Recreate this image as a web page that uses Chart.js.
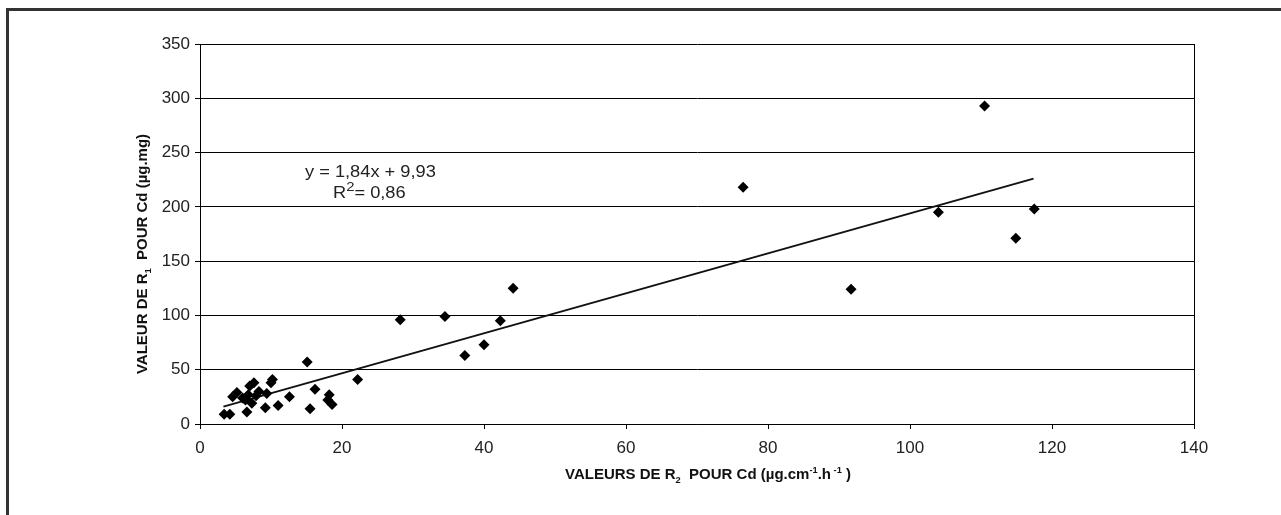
<!DOCTYPE html>
<html>
<head>
    <title>R1 / R2 Cd</title>
    <script src="https://cdn.jsdelivr.net/npm/chart.js@4.4.1/dist/chart.umd.min.js"></script>
    <style>
        body { margin: 0; background: #fff; font-family: 'Liberation Sans', Arial, sans-serif; }
        .frame { position: absolute; left: 6px; top: 8px; width: 1400px; height: 600px; border-left: 3px solid #333; border-top: 3px solid #333; }
        .chart-container { position: absolute; left: 0; top: 0; width: 1281px; height: 515px; }
    </style>
</head>
<body>
    <div class="frame"></div>
    <div class="chart-container">
        <canvas id="cdChart"></canvas>
    </div>

    <script>
        // valeurs
        const r2Values = [3.4, 4.2, 4.6, 5.2, 6.0, 6.4, 6.6, 6.8, 7.0, 7.3, 7.6, 7.9, 8.3, 9.2, 9.4, 10.0, 10.2, 11.0, 12.6,
            15.1, 15.5, 16.2, 18.0, 18.2, 18.6, 22.2, 28.2, 34.5, 37.3, 40.0, 42.3, 44.1, 76.5, 91.7, 104.0, 110.5, 114.9, 117.5];
        const r1Values = [9, 9, 25, 29, 24, 22, 11, 27, 35, 19, 38, 26, 30, 15, 28, 38, 41, 17, 25,
            57, 14, 32, 22, 27, 18, 41, 96, 99, 63, 73, 95, 125, 218, 124, 195, 293, 171, 198];
        // droite de tendance (extrémités)
        const trendX = [3.3, 117.4];
        const trendY = [16, 226];
        const xTicks = [0, 20, 40, 60, 80, 100, 120, 140];
        const yTicks = [0, 50, 100, 150, 200, 250, 300, 350];
        const equationText = 'y = 1,84x + 9,93';
        const r2Text = ['R', '2', '= 0,86'];

        const points = r2Values.map((x, i) => ({ x: x, y: r1Values[i] }));
        const trend = trendX.map((x, i) => ({ x: x, y: trendY[i] }));
        const FONT = '"Liberation Sans", Arial, sans-serif';

        // dessine un texte avec indices / exposants
        function drawParts(ctx, parts, x, y, size, weight) {
            let cx = x;
            parts.forEach(p => {
                const s = p.mode ? size * 0.62 : size;
                ctx.font = weight + ' ' + s + 'px ' + FONT;
                const dy = p.mode === 'sub' ? size * 0.25 : (p.mode === 'sup' ? -size * 0.4 : 0);
                ctx.fillText(p.t, cx, y + dy);
                cx += ctx.measureText(p.t).width;
            });
            return cx - x;
        }
        function partsWidth(ctx, parts, size, weight) {
            let w = 0;
            parts.forEach(p => {
                const s = p.mode ? size * 0.62 : size;
                ctx.font = weight + ' ' + s + 'px ' + FONT;
                w += ctx.measureText(p.t).width;
            });
            return w;
        }

        const textPlugin = {
            id: 'textPlugin',
            afterDraw(chart) {
                const ctx = chart.ctx;
                ctx.save();
                ctx.fillStyle = '#111';
                ctx.textBaseline = 'alphabetic';
                ctx.textAlign = 'left';

                // titre axe x
                const xParts = [{ t: 'VALEURS DE R' }, { t: '2', mode: 'sub' }, { t: '  POUR Cd (µg.cm' }, { t: '-1', mode: 'sup' },
                    { t: '.h' }, { t: ' -1', mode: 'sup' }, { t: ' )' }];
                const wx = partsWidth(ctx, xParts, 15, 'bold');
                drawParts(ctx, xParts, 708 - wx / 2, 479, 15, 'bold');

                // titre axe y
                const yParts = [{ t: 'VALEUR DE R' }, { t: '1', mode: 'sub' }, { t: '  POUR Cd (µg.mg)' }];
                const wy = partsWidth(ctx, yParts, 15, 'bold');
                ctx.save();
                ctx.translate(147, 254);
                ctx.rotate(-Math.PI / 2);
                drawParts(ctx, yParts, -wy / 2, 0, 15, 'bold');
                ctx.restore();

                // équation
                ctx.fillStyle = '#222';
                ctx.save();
                ctx.translate(305, 177);
                ctx.scale(1.14, 1);
                ctx.font = '16px ' + FONT;
                ctx.fillText(equationText, 0, 0);
                ctx.restore();

                ctx.save();
                ctx.translate(333, 198);
                ctx.scale(1.14, 1);
                let cx = 0;
                ctx.font = '16px ' + FONT;
                ctx.fillText(r2Text[0], cx, 0);
                cx += ctx.measureText(r2Text[0]).width;
                ctx.font = '13px ' + FONT;
                ctx.fillText(r2Text[1], cx, -7);
                cx += ctx.measureText(r2Text[1]).width;
                ctx.font = '16px ' + FONT;
                ctx.fillText(r2Text[2], cx, 0);
                ctx.restore();
                ctx.restore();
            }
        };

        new Chart(document.getElementById('cdChart'), {
            type: 'scatter',
            data: {
                datasets: [{
                    label: 'points',
                    data: points,
                    pointStyle: 'rectRot',
                    pointRadius: 5.5,
                    pointHoverRadius: 5.5,
                    backgroundColor: '#000',
                    borderColor: '#000',
                    borderWidth: 0
                }, {
                    type: 'line',
                    label: 'tendance',
                    data: trend,
                    borderColor: '#111',
                    borderWidth: 2,
                    pointRadius: 0,
                    fill: false
                }]
            },
            options: {
                responsive: true,
                maintainAspectRatio: false,
                animation: false,
                layout: { padding: { left: 0, right: 87, top: 44, bottom: 0 } },
                plugins: {
                    legend: { display: false },
                    tooltip: { enabled: false }
                },
                scales: {
                    x: {
                        type: 'linear',
                        min: 0,
                        max: 140,
                        afterBuildTicks: s => { s.ticks = xTicks.map(v => ({ value: v })); },
                        afterFit: s => { s.height = 91; },
                        ticks: {
                            color: '#222',
                            padding: 9,
                            font: { family: FONT, size: 17 }
                        },
                        grid: {
                            color: c => c.tick && c.tick.value === 140 ? '#000' : 'rgba(0,0,0,0)',
                            tickColor: '#000',
                            tickLength: 5,
                            lineWidth: 1
                        },
                        border: { color: '#000', width: 1 }
                    },
                    y: {
                        min: 0,
                        max: 350,
                        afterBuildTicks: s => { s.ticks = yTicks.map(v => ({ value: v })); },
                        afterFit: s => { s.width = 200; },
                        ticks: {
                            color: '#222',
                            padding: 5,
                            font: { family: FONT, size: 17 }
                        },
                        grid: {
                            color: '#000',
                            tickColor: '#000',
                            tickLength: 5,
                            lineWidth: 1
                        },
                        border: { color: '#000', width: 1 }
                    }
                }
            },
            plugins: [textPlugin]
        });
    </script>
</body>
</html>
